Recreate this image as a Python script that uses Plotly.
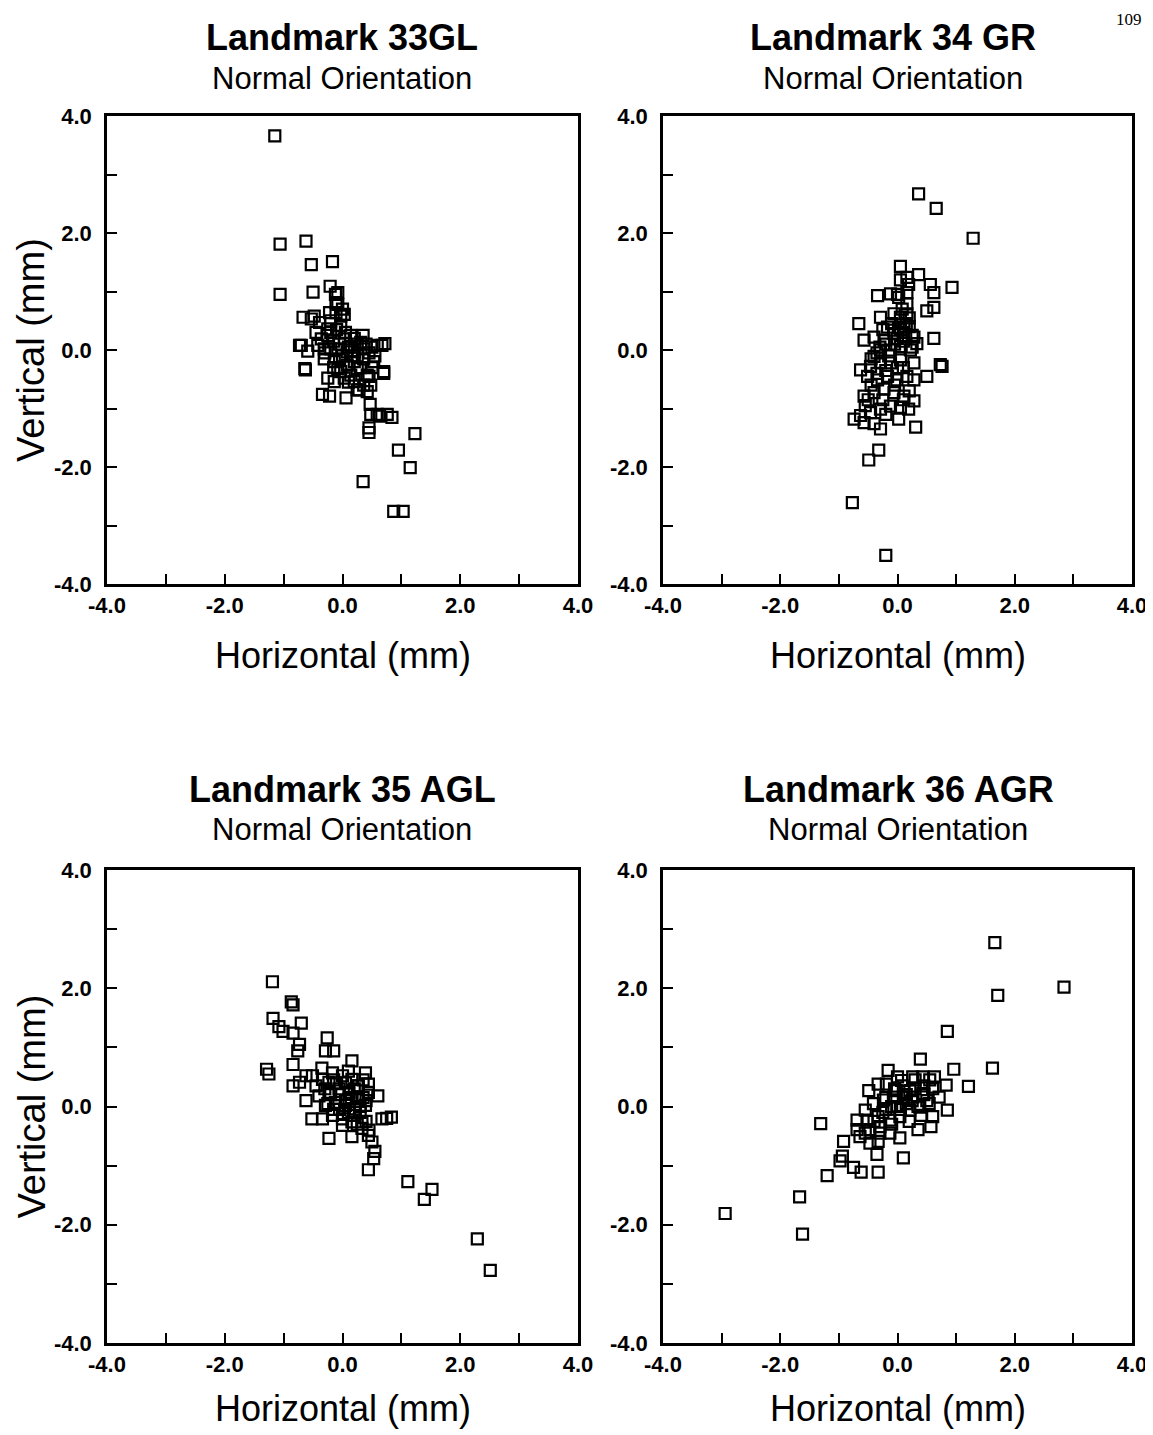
import plotly.graph_objects as go

# ---------------- data ----------------
titles = ["Landmark 33GL", "Landmark 34 GR", "Landmark 35 AGL", "Landmark 36 AGR"]
subtitle = "Normal Orientation"
x_title = "Horizontal (mm)"
y_title = "Vertical (mm)"
tick_vals = [-4, -2, 0, 2, 4]
tick_text = ["-4.0", "-2.0", "0.0", "2.0", "4.0"]
page_number = "109"

x33 = [-1.15, -1.06, -0.62, -0.53, -0.17, -1.06, -0.50, -0.21, -0.11, -0.08,
       -0.73, -0.59, -0.63, -0.67, -0.48, -0.42, -0.34, -0.22, 0.06, 0.28, 0.48, 0.70, 0.67, 0.72,
       0.47, 0.48, 0.63, 0.84, 0.45, 0.45, 1.23, 0.95, 1.15, 0.35, 0.87, 1.03,
       -0.08, -0.53, -0.39, -0.22, -0.03, -0.70, -0.64, -0.36, -0.31, -0.20, -0.08, 0.03, 0.14, 0.20,
       0.31, 0.36, 0.59, 0.70, 0.53, 0.42, 0.25, 0.08, -0.08, -0.25, -0.14, 0.03, 0.20, 0.36,
       0.25, 0.42, 0.59, 0.76,
       -0.20, -0.25, -0.14, -0.03, 0.08, 0.20, 0.36, -0.03, 0.14, -0.31, 0.03, -0.11,
       -0.45, 0.10, -0.15, 0.25, 0.45, 0.50, -0.05, 0.15,
       -0.25, -0.10, 0.05, 0.20, 0.35, 0.50, -0.30, -0.15, 0.00, 0.15, 0.30, 0.45, 0.55, 0.10,
       -0.05, 0.25, 0.40, -0.20, 0.00, -0.12]
y33 = [3.66, 1.81, 1.86, 1.46, 1.51, 0.95, 0.99, 1.09, 0.81, 0.98,
       0.08, -0.02, -0.34, 0.56, 0.58, 0.08, -0.76, -0.79, -0.82, -0.68, -0.60, -0.40, 0.08, 0.11,
       -0.93, -1.10, -1.13, -1.15, -1.33, -1.41, -1.43, -1.71, -2.01, -2.25, -2.76, -2.76,
       0.78, 0.53, 0.47, 0.64, 0.58, 0.08, -0.32, 0.19, -0.15, 0.30, 0.02, 0.19, 0.25, -0.03,
       0.13, -0.15, 0.08, -0.37, -0.20, -0.43, -0.32, -0.26, -0.32, -0.48, -0.54, -0.48, -0.54, -0.60,
       -0.68, -0.71, -1.10, -1.10,
       0.02, 0.36, -0.20, 0.42, -0.03, -0.20, 0.02, -0.37, -0.43, 0.02, 0.61, 0.64,
       0.30, 0.05, 0.15, 0.10, -0.05, -0.30, -0.15, -0.10,
       0.25, 0.35, 0.30, 0.20, 0.25, 0.05, -0.05, -0.30, -0.10, 0.05, -0.30, -0.45, -0.10, -0.55,
       0.10, -0.10, 0.10, 0.50, 0.70, 0.95]

x34 = [0.36, 0.66, 1.29, 0.93, 0.05, 0.36, 0.16, 0.56, 0.62, -0.34, -0.12, 0.02, 0.16, 0.50, 0.62,
       -0.29, -0.66, 0.62, 0.76, 0.73, 0.50, 0.31, -0.49, -0.32, -0.77, -0.20,
       -0.57, -0.40, -0.23, -0.06, 0.11, 0.28, 0.05, -0.06, 0.16, -0.12, 0.05, 0.22, 0.33,
       -0.63, -0.46, -0.29, -0.12, 0.05, 0.28, -0.51, -0.34, -0.17, -0.01, 0.16, 0.28,
       -0.57, -0.40, -0.23, -0.06, 0.11, 0.28, -0.63, -0.46, -0.29, -0.12, 0.05, 0.19,
       -0.74, -0.57, -0.40, -0.29, 0.02, -0.06, 0.14, -0.17, -0.29, -0.40, 0.16, 0.19,
       -0.20, 0.00, 0.10, -0.10, 0.20, 0.25, -0.35, -0.20, 0.00, -0.45, -0.25, -0.55,
       0.05, 0.15, 0.25, 0.10, -0.05, 0.20, -0.30, -0.45, -0.15, 0.10, -0.35, -0.05, 0.20, -0.50,
       -0.20, 0.10, 0.00, 0.05, 0.08, -0.25]
y34 = [2.67, 2.42, 1.91, 1.07, 1.43, 1.29, 1.24, 1.12, 0.98, 0.93, 0.96, 0.90, 0.98, 0.67, 0.73,
       0.56, 0.45, 0.20, -0.28, -0.25, -0.45, -1.32, -1.88, -1.71, -2.61, -3.51,
       0.17, 0.22, 0.17, 0.28, 0.39, 0.22, 0.56, 0.62, 0.62, 0.00, 0.06, 0.00, 0.11,
       -0.34, -0.28, -0.22, -0.22, -0.17, -0.22, -0.45, -0.51, -0.45, -0.51, -0.45, -0.51,
       -0.79, -0.73, -0.67, -0.73, -0.79, -0.87, -1.12, -1.07, -1.01, -0.96, -0.98, -1.01,
       -1.18, -1.24, -1.26, -1.35, -1.18, 0.34, 0.22, 0.39, 0.00, -0.11, 0.79, 1.12,
       0.10, 0.20, 0.30, 0.45, 0.40, 0.05, -0.05, -0.35, -0.30, -0.60, -0.85, -0.95,
       0.35, 0.45, 0.25, 0.15, 0.10, 0.55, 0.05, -0.15, -0.10, -0.30, -0.40, -0.60, -0.70, -0.85,
       -1.10, -0.85, 0.95, 1.20, 0.70, 0.35]

x35 = [-1.19, -0.87, -0.84, -1.18, -1.08, -1.01, -0.70, -0.84, -0.73, -0.76, -0.84, -1.29, -1.25,
       -0.84, -0.73, -0.62, -0.51, -0.62, -0.52, -0.34, -0.23, 0.16, -0.26, -0.29, -0.15, 0.16,
       0.39, 0.44, 0.60, 0.67, 0.83, 0.75, 0.44, 0.50, 0.55, 0.53, 0.44, 1.11, 1.39, 1.52, 2.29, 2.51,
       -0.34, -0.17, 0.00, 0.16, 0.27, -0.40, -0.23, -0.06, 0.11, 0.27, -0.29, -0.12, 0.05, 0.22,
       0.39, -0.17, 0.00, 0.16, 0.33, 0.33, 0.00, 0.11, -0.23, -0.45, 0.44,
       -0.10, 0.20, 0.05, -0.20, 0.30, 0.10, -0.05, 0.35,
       -0.30, -0.15, 0.05, 0.25, 0.40, -0.25, -0.05, 0.15, 0.30, 0.20, 0.00, -0.15, 0.40, 0.45,
       0.10, -0.35, 0.25, 0.35]
y35 = [2.11, 1.77, 1.72, 1.49, 1.35, 1.27, 1.41, 1.24, 1.05, 0.94, 0.71, 0.63, 0.55,
       0.35, 0.41, 0.52, 0.52, 0.10, -0.21, -0.21, -0.54, -0.51, 1.16, 0.94, 0.94, 0.77,
       0.57, 0.38, 0.18, -0.21, -0.18, -0.20, -0.49, -0.60, -0.76, -0.88, -1.07, -1.27, -1.57, -1.40, -2.24, -2.77,
       0.46, 0.57, 0.52, 0.46, 0.35, 0.18, 0.24, 0.30, 0.24, 0.13, 0.02, 0.07, 0.02, -0.04,
       0.02, -0.15, -0.21, -0.26, -0.26, -0.37, -0.32, 0.13, 0.41, 0.35, 0.24,
       0.40, 0.30, 0.10, 0.20, -0.10, -0.10, -0.05, 0.15,
       0.30, 0.45, 0.40, 0.35, 0.10, 0.05, 0.20, 0.15, 0.00, -0.15, -0.12, -0.05, -0.25, -0.40,
       0.60, 0.65, -0.30, 0.45]

x36 = [-2.94, -1.67, -1.62, -1.20, -1.31, -0.98, -0.94, -0.92, -0.75, -0.62, -0.33, 0.10, -0.35,
       1.66, 1.71, 2.84, 0.85, 1.62, 0.96, 1.21, 0.39, 0.85, 0.83,
       -0.16, -0.49, -0.33, -0.19, 0.07, 0.26, 0.43, 0.63, 0.60, 0.43, 0.26, 0.10, -0.07, -0.24,
       -0.41, -0.55, -0.69, -0.69, -0.64, -0.47, -0.33, -0.47, -0.30, -0.13, 0.04, 0.21, 0.38,
       0.54, 0.71, 0.60, 0.57, 0.35, 0.04, -0.13, 0.21, -0.02, -0.33, -0.52,
       0.00, 0.15, 0.30, -0.10, 0.45, 0.20, -0.20, 0.50,
       -0.05, 0.10, 0.30, 0.45, 0.60, -0.25, -0.40, -0.10, 0.05, 0.25, 0.40, -0.55, -0.30, 0.15,
       0.35, -0.20, 0.55, 0.00]
y36 = [-1.81, -1.53, -2.16, -1.17, -0.29, -0.92, -0.84, -0.59, -1.03, -1.11, -1.11, -0.87, -0.81,
       2.77, 1.88, 2.02, 1.27, 0.65, 0.63, 0.34, 0.80, -0.06, 0.36,
       0.61, 0.27, 0.38, 0.38, 0.44, 0.50, 0.50, 0.50, 0.33, 0.22, 0.16, 0.16, 0.16, 0.11,
       0.05, -0.06, -0.23, -0.39, -0.51, -0.62, -0.59, -0.39, -0.34, -0.23, -0.17, -0.06, -0.01,
       0.05, 0.16, -0.17, -0.34, -0.39, -0.53, -0.45, 0.27, 0.27, -0.17, -0.23,
       0.00, 0.05, 0.30, 0.00, 0.35, -0.25, -0.05, 0.10,
       0.30, 0.35, 0.45, 0.20, 0.30, -0.10, -0.25, -0.30, -0.05, 0.10, -0.15, -0.45, -0.45, 0.20,
       0.00, 0.15, 0.45, 0.50]

panels_x = [x33, x34, x35, x36]
panels_y = [y33, y34, y35, y36]

# ---------------- layout geometry (page pixels of the reference) ----------------
OFF = 7                       # page offset of the plot div (body margin)
W, H = 1153 - OFF, 1435 - OFF
col_px = [(106, 577), (662, 1131)]
row_px = [(115, 583), (869, 1342)]
title_x_px = [341, 892, 341, 897]
title_y_px = [36, 788]
sub_y_px = [77, 829]
xt_y_px = [655, 1407]
yt_x_px = 30

FONT = "Liberation Sans, Arial, Helvetica, sans-serif"

def px_x(p):
    return (p - OFF) / W

def px_y(p):
    return 1 - (p - OFF) / H

fig = go.Figure()
annotations = []

for i in range(4):
    r, c = divmod(i, 2)
    n = i + 1
    xa = "x" if n == 1 else f"x{n}"
    ya = "y" if n == 1 else f"y{n}"
    fig.add_trace(go.Scatter(
        x=panels_x[i], y=panels_y[i], mode="markers",
        marker=dict(symbol="square-open", size=11, color="black",
                    line=dict(width=2.2, color="black")),
        xaxis=xa, yaxis=ya, showlegend=False,
    ))
    axis_common = dict(
        range=[-4, 4], tickvals=tick_vals, ticktext=tick_text,
        ticks="inside", ticklen=10, tickwidth=2, tickcolor="black",
        minor=dict(dtick=1, ticks="inside", ticklen=10, tickwidth=2, tickcolor="black"),
        showline=True, linewidth=2.5, linecolor="black", mirror=True,
        showgrid=False, zeroline=False, fixedrange=True, automargin=False,
        ticklabeloverflow="allow",
        tickfont=dict(family=FONT, size=22, color="black", weight="bold"),
    )
    xkey = "xaxis" if n == 1 else f"xaxis{n}"
    ykey = "yaxis" if n == 1 else f"yaxis{n}"
    fig.update_layout(**{
        xkey: dict(axis_common, domain=[px_x(col_px[c][0]), px_x(col_px[c][1])],
                   anchor=ya, ticklabelstandoff=0),
        ykey: dict(axis_common, domain=[px_y(row_px[r][1]), px_y(row_px[r][0])],
                   anchor=xa, ticklabelstandoff=8),
    })
    cx = (col_px[c][0] + col_px[c][1]) / 2
    annotations.append(dict(x=px_x(title_x_px[i]), y=px_y(title_y_px[r]), xref="paper", yref="paper",
                            text=f"<b>{titles[i]}</b>", showarrow=False, xanchor="center", yanchor="middle",
                            font=dict(family=FONT, size=36, color="black")))
    annotations.append(dict(x=px_x(title_x_px[i]), y=px_y(sub_y_px[r]), xref="paper", yref="paper",
                            text=subtitle, showarrow=False, xanchor="center", yanchor="middle",
                            font=dict(family=FONT, size=31, color="black")))
    annotations.append(dict(x=px_x(cx), y=px_y(xt_y_px[r]), xref="paper", yref="paper",
                            text=x_title, showarrow=False, xanchor="center", yanchor="middle",
                            font=dict(family=FONT, size=36, color="black")))
    if c == 0:
        ry = (row_px[r][0] + row_px[r][1]) / 2
        annotations.append(dict(x=px_x(yt_x_px), y=px_y(ry), xref="paper", yref="paper",
                                text=y_title, showarrow=False, xanchor="center", yanchor="middle",
                                textangle=-90,
                                font=dict(family=FONT, size=38, color="black")))

annotations.append(dict(x=px_x(1128), y=px_y(19), xref="paper", yref="paper", text=page_number,
                        showarrow=False, xanchor="center", yanchor="middle",
                        font=dict(family="Liberation Serif, Times New Roman, serif", size=17, color="black")))

fig.update_layout(
    width=W, height=H, autosize=False,
    margin=dict(l=0, r=0, t=0, b=0, pad=0, autoexpand=False),
    paper_bgcolor="white", plot_bgcolor="white",
    annotations=annotations,
    showlegend=False,
)

fig.write_html("out.html")
